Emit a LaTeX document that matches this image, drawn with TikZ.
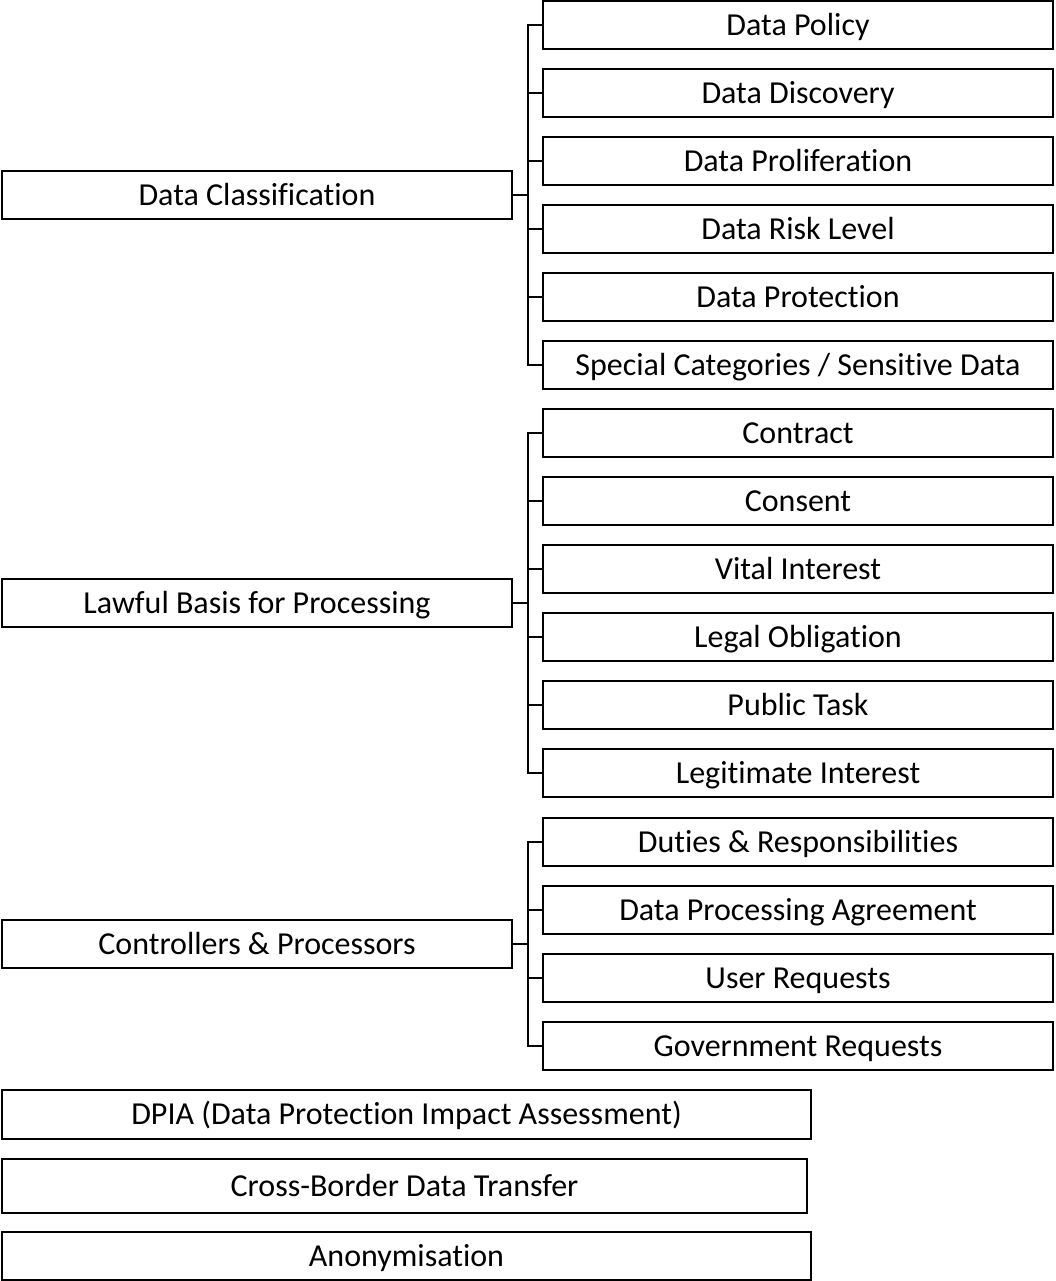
\documentclass[tikz,border=0pt]{standalone}
\usepackage{fontspec}
\setmainfont{Carlito}[Ligatures=NoCommon]
\begin{document}
\begin{tikzpicture}[x=1pt,y=-1pt,
  every node/.style={font=\fontsize{32}{38}\selectfont},
  box/.style={draw=black,line width=2.7pt,inner sep=0pt,minimum height=48pt,fill=white,text height=20.6pt,text depth=-0.6pt},
  rbox/.style={box,minimum width=510pt},
  lbox/.style={box,minimum width=510pt},
  link/.style={draw=black,line width=2.7pt}]
\useasboundingbox (0,0) rectangle (1055,1281);
% group 1
\node[lbox] (g1) at (257,195) {Data Classification};
\node[rbox] (a1) at (798,25) {Data Policy};
\node[rbox] (a2) at (798,93) {Data Discovery};
\node[rbox] (a3) at (798,161) {Data Proliferation};
\node[rbox] (a4) at (798,229) {Data Risk Level};
\node[rbox] (a5) at (798,297) {Data Protection};
\node[rbox] (a6) at (798,365) {Special Categories / Sensitive Data};
\coordinate (j1) at (528,195);
% group 2
\node[lbox] (g2) at (257,603) {Lawful Basis for Processing};
\node[rbox] (b1) at (798,433) {Contract};
\node[rbox] (b2) at (798,501) {Consent};
\node[rbox] (b3) at (798,569) {Vital Interest};
\node[rbox] (b4) at (798,637) {Legal Obligation};
\node[rbox] (b5) at (798,705) {Public Task};
\node[rbox] (b6) at (798,773) {Legitimate Interest};
\coordinate (j2) at (528,603);
% group 3
\node[lbox] (g3) at (257,944) {Controllers \& Processors};
\node[rbox] (c1) at (798,842) {Duties \& Responsibilities};
\node[rbox] (c2) at (798,910) {Data Processing Agreement};
\node[rbox] (c3) at (798,978) {User Requests};
\node[rbox] (c4) at (798,1046) {Government Requests};
\coordinate (j3) at (528,944);
% bottom
\node[box,minimum width=809pt,minimum height=49pt] (d1) at (406.5,1114.5) {DPIA (Data Protection Impact Assessment)};
\node[box,minimum width=805pt,minimum height=54pt] (d2) at (404.5,1186) {Cross-Border Data Transfer};
\node[box,minimum width=809pt,minimum height=48pt] (d3) at (406.5,1256) {Anonymisation};
% connectors
\draw[link] (g1.east) -- (j1);
\foreach \n in {a1,a2,a3,a4,a5,a6} {\draw[link] (\n.west) -| (j1);}
\draw[link] (g2.east) -- (j2);
\foreach \n in {b1,b2,b3,b4,b5,b6} {\draw[link] (\n.west) -| (j2);}
\draw[link] (g3.east) -- (j3);
\foreach \n in {c1,c2,c3,c4} {\draw[link] (\n.west) -| (j3);}
\end{tikzpicture}
\end{document}
